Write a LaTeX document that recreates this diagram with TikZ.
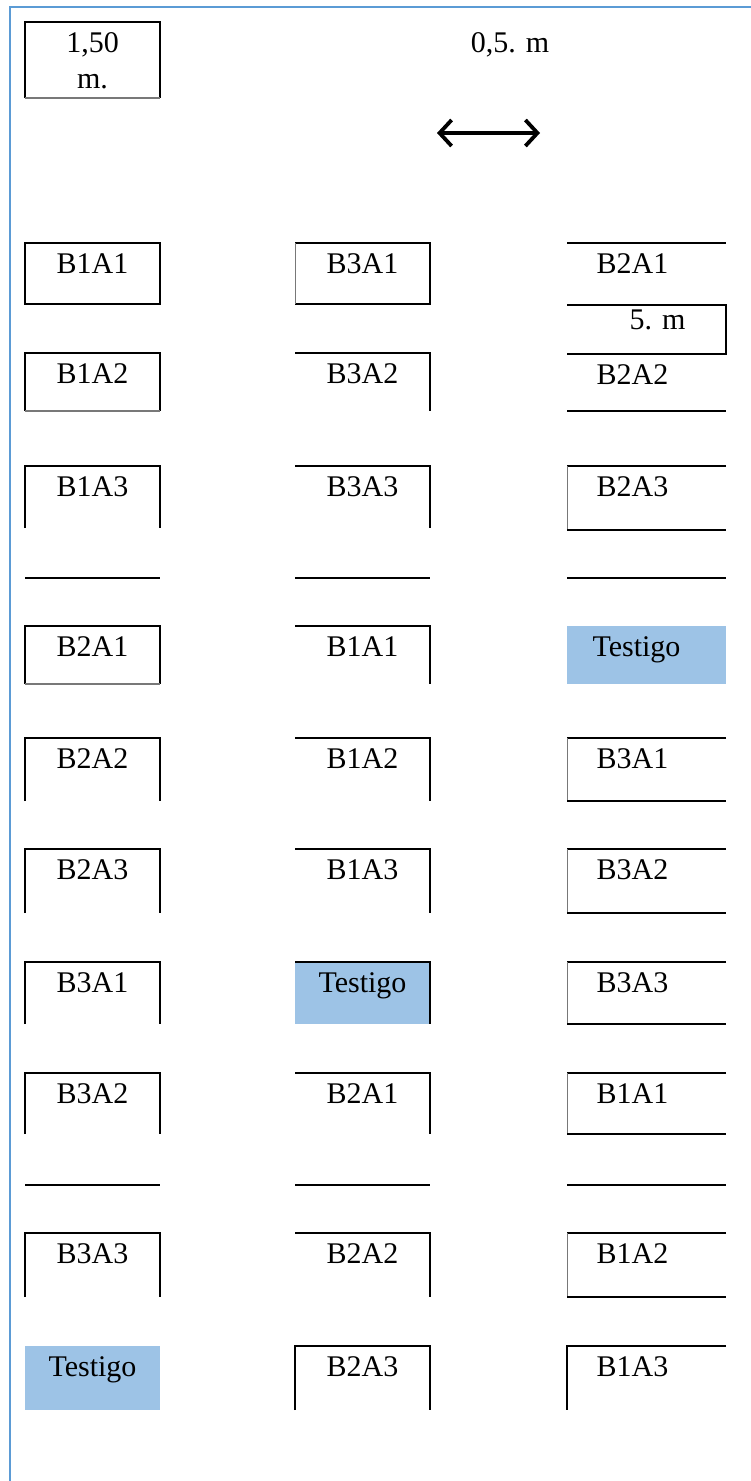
\documentclass[tikz,border=0pt]{standalone}
\usepackage{fontspec}
\setmainfont{Liberation Serif}
\usetikzlibrary{arrows.meta,calc}
\definecolor{frameblue}{RGB}{91,155,213}
\definecolor{checkfill}{RGB}{157,195,230}
\definecolor{faintgray}{RGB}{120,120,120}

% one field plot: empty rectangle of exact size plus its label near the top
\newcommand\plotcell[8][]{%
  \node[plot={#5pt}{#6pt},#1] (#2) at (#3,#4) {};
  \node[lbl] (#2t) at ($(#2.north)+(#8,30)$) {#7};
}

\begin{document}
\begin{tikzpicture}[x=1pt,y=-1pt,
  plot/.style 2 args={rectangle, inner sep=0pt, outer sep=0pt, anchor=north west,
                      minimum width=#1, minimum height=#2},
  lbl/.style={font=\fontsize{30}{36}\selectfont, inner sep=0pt, anchor=base},
  ink/.style={draw=black, line width=1.7pt},
  faint/.style={draw=faintgray, line width=1pt},
  frame/.style={draw=frameblue, line width=2.5pt},
  check/.style={fill=checkfill},
  dimarrow/.style={line width=3.8pt,
    {Straight Barb[length=12pt,width=26pt]}-{Straight Barb[length=12pt,width=26pt]}}]

\useasboundingbox (0,0) rectangle (751,1481);

% page frame (left and top edges only)
\coordinate (fb) at (10,1481);
\coordinate (fc) at (10,7);
\coordinate (fr) at (751,7);
\draw[frame] (fb) -- (fc) -- (fr);

% plot size legend
\node[plot={135pt}{76pt}] (scale) at (25,22) {};
\node[lbl] (scalea) at ($(scale.north)+(0,30)$) {1,50};
\node[lbl] (scaleb) at ($(scale.north)+(0,66)$) {m.};
\draw[ink] (scale.south west) -- (scale.north west) -- (scale.north east) -- (scale.south east);
\draw[faint, line width=1.6pt] (scale.south west) -- (scale.south east);

% spacing between columns
\node[lbl] (gap) at (510,52) {0,5. m};
\coordinate (arrL) at (437,133);
\coordinate (arrR) at (540,133);
\draw[dimarrow] (arrL) -- (arrR);

% ---- row 1
\plotcell{c11}{25}{243}{135}{61}{B1A1}{0}
\plotcell{c12}{295}{243}{135}{61}{B3A1}{0}
\plotcell{c13}{567}{243}{159}{61}{B2A1}{-14}
\draw[ink] (c11.north west) rectangle (c11.south east);
\draw[ink] (c12.north west) -- (c12.north east) -- (c12.south east) -- (c12.south west);
\draw[faint] (c12.north west) -- (c12.south west);
\draw[ink] (c13.north west) -- (c13.north east);

% plot length legend
\node[plot={159pt}{49pt}] (len) at (567,305) {};
\node[lbl] (lent) at ($(len.north)+(11,24)$) {5. m};
\draw[ink] (len.north west) -- (len.north east) -- (len.south east) -- (len.south west);

% ---- row 2
\plotcell{c21}{25}{353}{135}{58}{B1A2}{0}
\plotcell{c22}{295}{353}{135}{58}{B3A2}{0}
\plotcell{c23}{567}{354}{159}{57}{B2A2}{-14}
\draw[ink] (c21.south west) -- (c21.north west) -- (c21.north east) -- (c21.south east);
\draw[faint, line width=1.4pt] (c21.south west) -- (c21.south east);
\draw[ink] (c22.north west) -- (c22.north east) -- (c22.south east);
\draw[ink] (c23.south west) -- (c23.south east);

% ---- row 3
\plotcell{c31}{25}{466}{135}{62}{B1A3}{0}
\plotcell{c32}{295}{466}{135}{62}{B3A3}{0}
\plotcell{c33}{567}{466}{159}{64}{B2A3}{-14}
\draw[ink] (c31.south west) -- (c31.north west) -- (c31.north east) -- (c31.south east);
\draw[ink] (c32.north west) -- (c32.north east) -- (c32.south east);
\draw[ink] (c33.north east) -- (c33.north west);
\draw[faint] (c33.north west) -- (c33.south west);
\draw[ink] (c33.south west) -- (c33.south east);

% ---- alley 1
\coordinate (a1a) at (25,578);  \coordinate (a1b) at (160,578);
\coordinate (a2a) at (295,578); \coordinate (a2b) at (430,578);
\coordinate (a3a) at (567,578); \coordinate (a3b) at (726,578);
\draw[ink] (a1a) -- (a1b);
\draw[ink] (a2a) -- (a2b);
\draw[ink] (a3a) -- (a3b);

% ---- row 4
\plotcell{c41}{25}{626}{135}{58}{B2A1}{0}
\plotcell{c42}{295}{626}{135}{58}{B1A1}{0}
\plotcell[check]{c43}{567}{626}{159}{58}{Testigo}{-10}
\draw[ink] (c41.south west) -- (c41.north west) -- (c41.north east) -- (c41.south east);
\draw[faint, line width=1.4pt] (c41.south west) -- (c41.south east);
\draw[ink] (c42.north west) -- (c42.north east) -- (c42.south east);

% ---- row 5
\plotcell{c51}{25}{738}{135}{63}{B2A2}{0}
\plotcell{c52}{295}{738}{135}{63}{B1A2}{0}
\plotcell{c53}{567}{738}{159}{63}{B3A1}{-14}
\draw[ink] (c51.south west) -- (c51.north west) -- (c51.north east) -- (c51.south east);
\draw[ink] (c52.north west) -- (c52.north east) -- (c52.south east);
\draw[ink] (c53.north east) -- (c53.north west);
\draw[faint] (c53.north west) -- (c53.south west);
\draw[ink] (c53.south west) -- (c53.south east);

% ---- row 6
\plotcell{c61}{25}{849}{135}{64}{B2A3}{0}
\plotcell{c62}{295}{849}{135}{64}{B1A3}{0}
\plotcell{c63}{567}{849}{159}{64}{B3A2}{-14}
\draw[ink] (c61.south west) -- (c61.north west) -- (c61.north east) -- (c61.south east);
\draw[ink] (c62.north west) -- (c62.north east) -- (c62.south east);
\draw[ink] (c63.north east) -- (c63.north west);
\draw[faint] (c63.north west) -- (c63.south west);
\draw[ink] (c63.south west) -- (c63.south east);

% ---- row 7
\plotcell{c71}{25}{962}{135}{62}{B3A1}{0}
\plotcell[check]{c72}{295}{962}{135}{62}{Testigo}{0}
\plotcell{c73}{567}{962}{159}{62}{B3A3}{-14}
\draw[ink] (c71.south west) -- (c71.north west) -- (c71.north east) -- (c71.south east);
\draw[ink] (c72.north west) -- (c72.north east) -- (c72.south east);
\draw[ink] (c73.north east) -- (c73.north west);
\draw[faint] (c73.north west) -- (c73.south west);
\draw[ink] (c73.south west) -- (c73.south east);

% ---- row 8
\plotcell{c81}{25}{1073}{135}{61}{B3A2}{0}
\plotcell{c82}{295}{1073}{135}{61}{B2A1}{0}
\plotcell{c83}{567}{1073}{159}{61}{B1A1}{-14}
\draw[ink] (c81.south west) -- (c81.north west) -- (c81.north east) -- (c81.south east);
\draw[ink] (c82.north west) -- (c82.north east) -- (c82.south east);
\draw[ink] (c83.north east) -- (c83.north west);
\draw[faint] (c83.north west) -- (c83.south west);
\draw[ink] (c83.south west) -- (c83.south east);

% ---- alley 2
\coordinate (b1a) at (25,1185);  \coordinate (b1b) at (160,1185);
\coordinate (b2a) at (295,1185); \coordinate (b2b) at (430,1185);
\coordinate (b3a) at (567,1185); \coordinate (b3b) at (726,1185);
\draw[ink] (b1a) -- (b1b);
\draw[ink] (b2a) -- (b2b);
\draw[ink] (b3a) -- (b3b);

% ---- row 9
\plotcell{c91}{25}{1233}{135}{64}{B3A3}{0}
\plotcell{c92}{295}{1233}{135}{64}{B2A2}{0}
\plotcell{c93}{567}{1233}{159}{64}{B1A2}{-14}
\draw[ink] (c91.south west) -- (c91.north west) -- (c91.north east) -- (c91.south east);
\draw[ink] (c92.north west) -- (c92.north east) -- (c92.south east);
\draw[ink] (c93.north east) -- (c93.north west);
\draw[faint] (c93.north west) -- (c93.south west);
\draw[ink] (c93.south west) -- (c93.south east);

% ---- row 10
\plotcell[check]{c101}{25}{1346}{135}{64}{Testigo}{0}
\plotcell{c102}{295}{1346}{135}{64}{B2A3}{0}
\plotcell{c103}{567}{1346}{159}{64}{B1A3}{-14}
\draw[ink] (c102.south west) -- (c102.north west) -- (c102.north east) -- (c102.south east);
\draw[ink] (c103.north east) -- (c103.north west) -- (c103.south west);

\end{tikzpicture}
\end{document}
